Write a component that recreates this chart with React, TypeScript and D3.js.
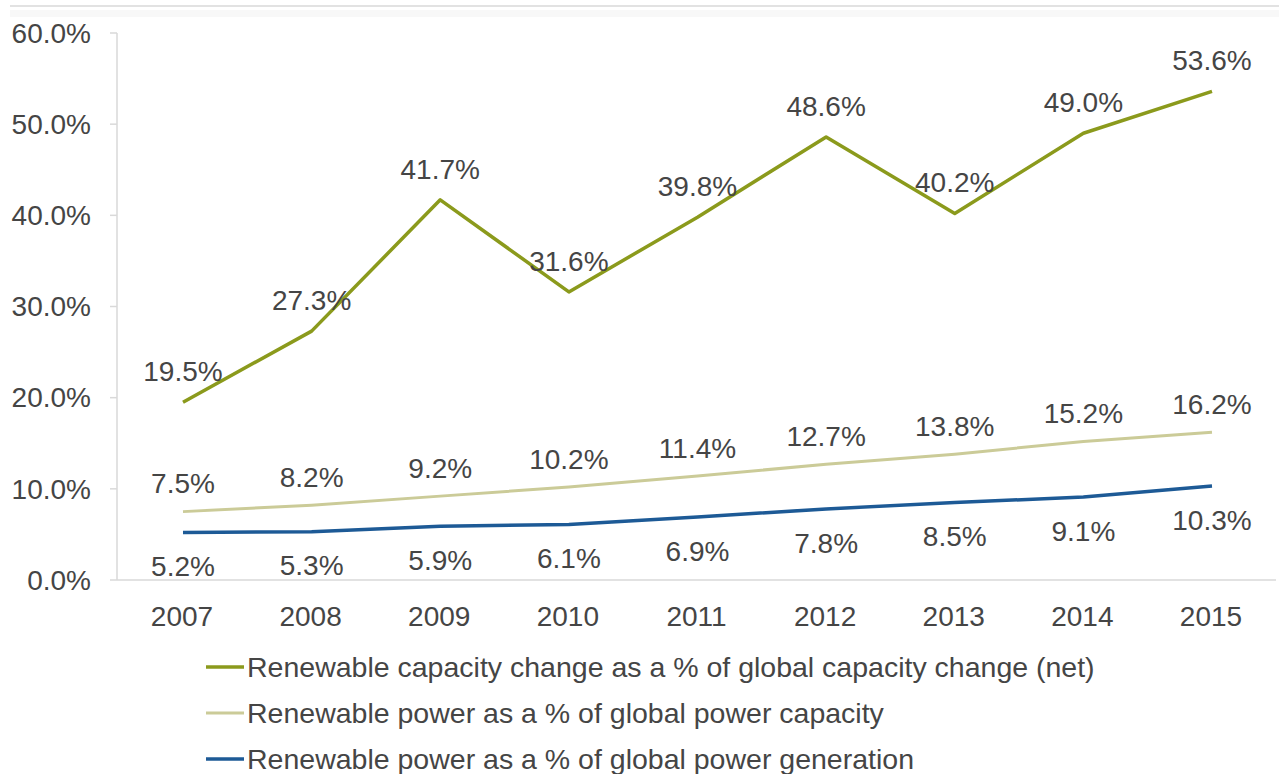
import React from "react";
import * as d3 from "d3";

const years = ["2007", "2008", "2009", "2010", "2011", "2012", "2013", "2014", "2015"];
const capacityChange = [19.5, 27.3, 41.7, 31.6, 39.8, 48.6, 40.2, 49.0, 53.6];
const powerCapacity = [7.5, 8.2, 9.2, 10.2, 11.4, 12.7, 13.8, 15.2, 16.2];
const powerGeneration = [5.2, 5.3, 5.9, 6.1, 6.9, 7.8, 8.5, 9.1, 10.3];
const yTicks = [0, 10, 20, 30, 40, 50, 60];
const seriesNames = [
  "Renewable capacity change as a % of global capacity change (net)",
  "Renewable power as a % of global power capacity",
  "Renewable power as a % of global power generation",
];

const W = 1279;
const H = 774;
const FONT = "'Liberation Sans', Arial, sans-serif";
const TEXT = "#454545";

export default function App() {
  const x = d3.scalePoint<string>().domain(years).range([183, 1212]);
  const y = d3.scaleLinear().domain([0, 60]).range([580, 33]);

  const series = [
    { name: seriesNames[0], values: capacityChange, color: "#8b9a1c", width: 3.5, dy: -31 },
    { name: seriesNames[1], values: powerCapacity, color: "#cbcb98", width: 3, dy: -28 },
    { name: seriesNames[2], values: powerGeneration, color: "#1d5a96", width: 3.5, dy: 34 },
  ];

  const line = (vals: number[]) =>
    d3
      .line<number>()
      .x((_, i) => x(years[i]) as number)
      .y((d) => y(d))(vals) as string;

  return (
    <svg
      width={W}
      height={H}
      style={{ position: "absolute", left: 0, top: 0, background: "#fff" }}
      fontFamily={FONT}
    >
      <rect x={0} y={0} width={W} height={H} fill="#fff" />
      {/* top border */}
      <line x1={10} x2={W} y1={6} y2={6} stroke="#e2e2e2" strokeWidth={2} />
      <rect x={10} y={10} width={W - 10} height={7} fill="#f8f8f8" />

      {/* axes */}
      <line x1={117} x2={117} y1={y(60)} y2={y(0)} stroke="#d9d9d9" strokeWidth={1.5} />
      <line x1={117} x2={1276} y1={y(0)} y2={y(0)} stroke="#d9d9d9" strokeWidth={1.5} />
      {yTicks.map((t) => (
        <g key={t}>
          <line x1={110} x2={117} y1={y(t)} y2={y(t)} stroke="#d9d9d9" strokeWidth={1.5} />
          <text x={91} y={y(t)} dy="0.35em" textAnchor="end" fontSize={28} fill={TEXT}>
            {t.toFixed(1) + "%"}
          </text>
        </g>
      ))}
      {years.map((yr) => (
        <text
          key={yr}
          x={(x(yr) as number) - 1}
          y={616}
          dy="0.35em"
          textAnchor="middle"
          fontSize={28}
          fill={TEXT}
        >
          {yr}
        </text>
      ))}

      {/* lines */}
      {series.map((s) => (
        <path
          key={s.name}
          d={line(s.values)}
          fill="none"
          stroke={s.color}
          strokeWidth={s.width}
          strokeLinejoin="round"
        />
      ))}

      {/* labels */}
      {series.map((s) =>
        s.values.map((v, i) => (
          <text
            key={s.name + i}
            x={x(years[i]) as number}
            y={y(v) + s.dy}
            dy="0.35em"
            textAnchor="middle"
            fontSize={28}
            fill={TEXT}
          >
            {v.toFixed(1) + "%"}
          </text>
        ))
      )}

      {/* legend */}
      {series.map((s, i) => (
        <g key={"lg" + i} transform={`translate(0, ${667 + i * 46})`}>
          <line x1={206} x2={244} y1={0} y2={0} stroke={s.color} strokeWidth={s.width} />
          <text x={247} y={0} dy="0.35em" fontSize={28.5} fill={TEXT}>
            {s.name}
          </text>
        </g>
      ))}
    </svg>
  );
}
